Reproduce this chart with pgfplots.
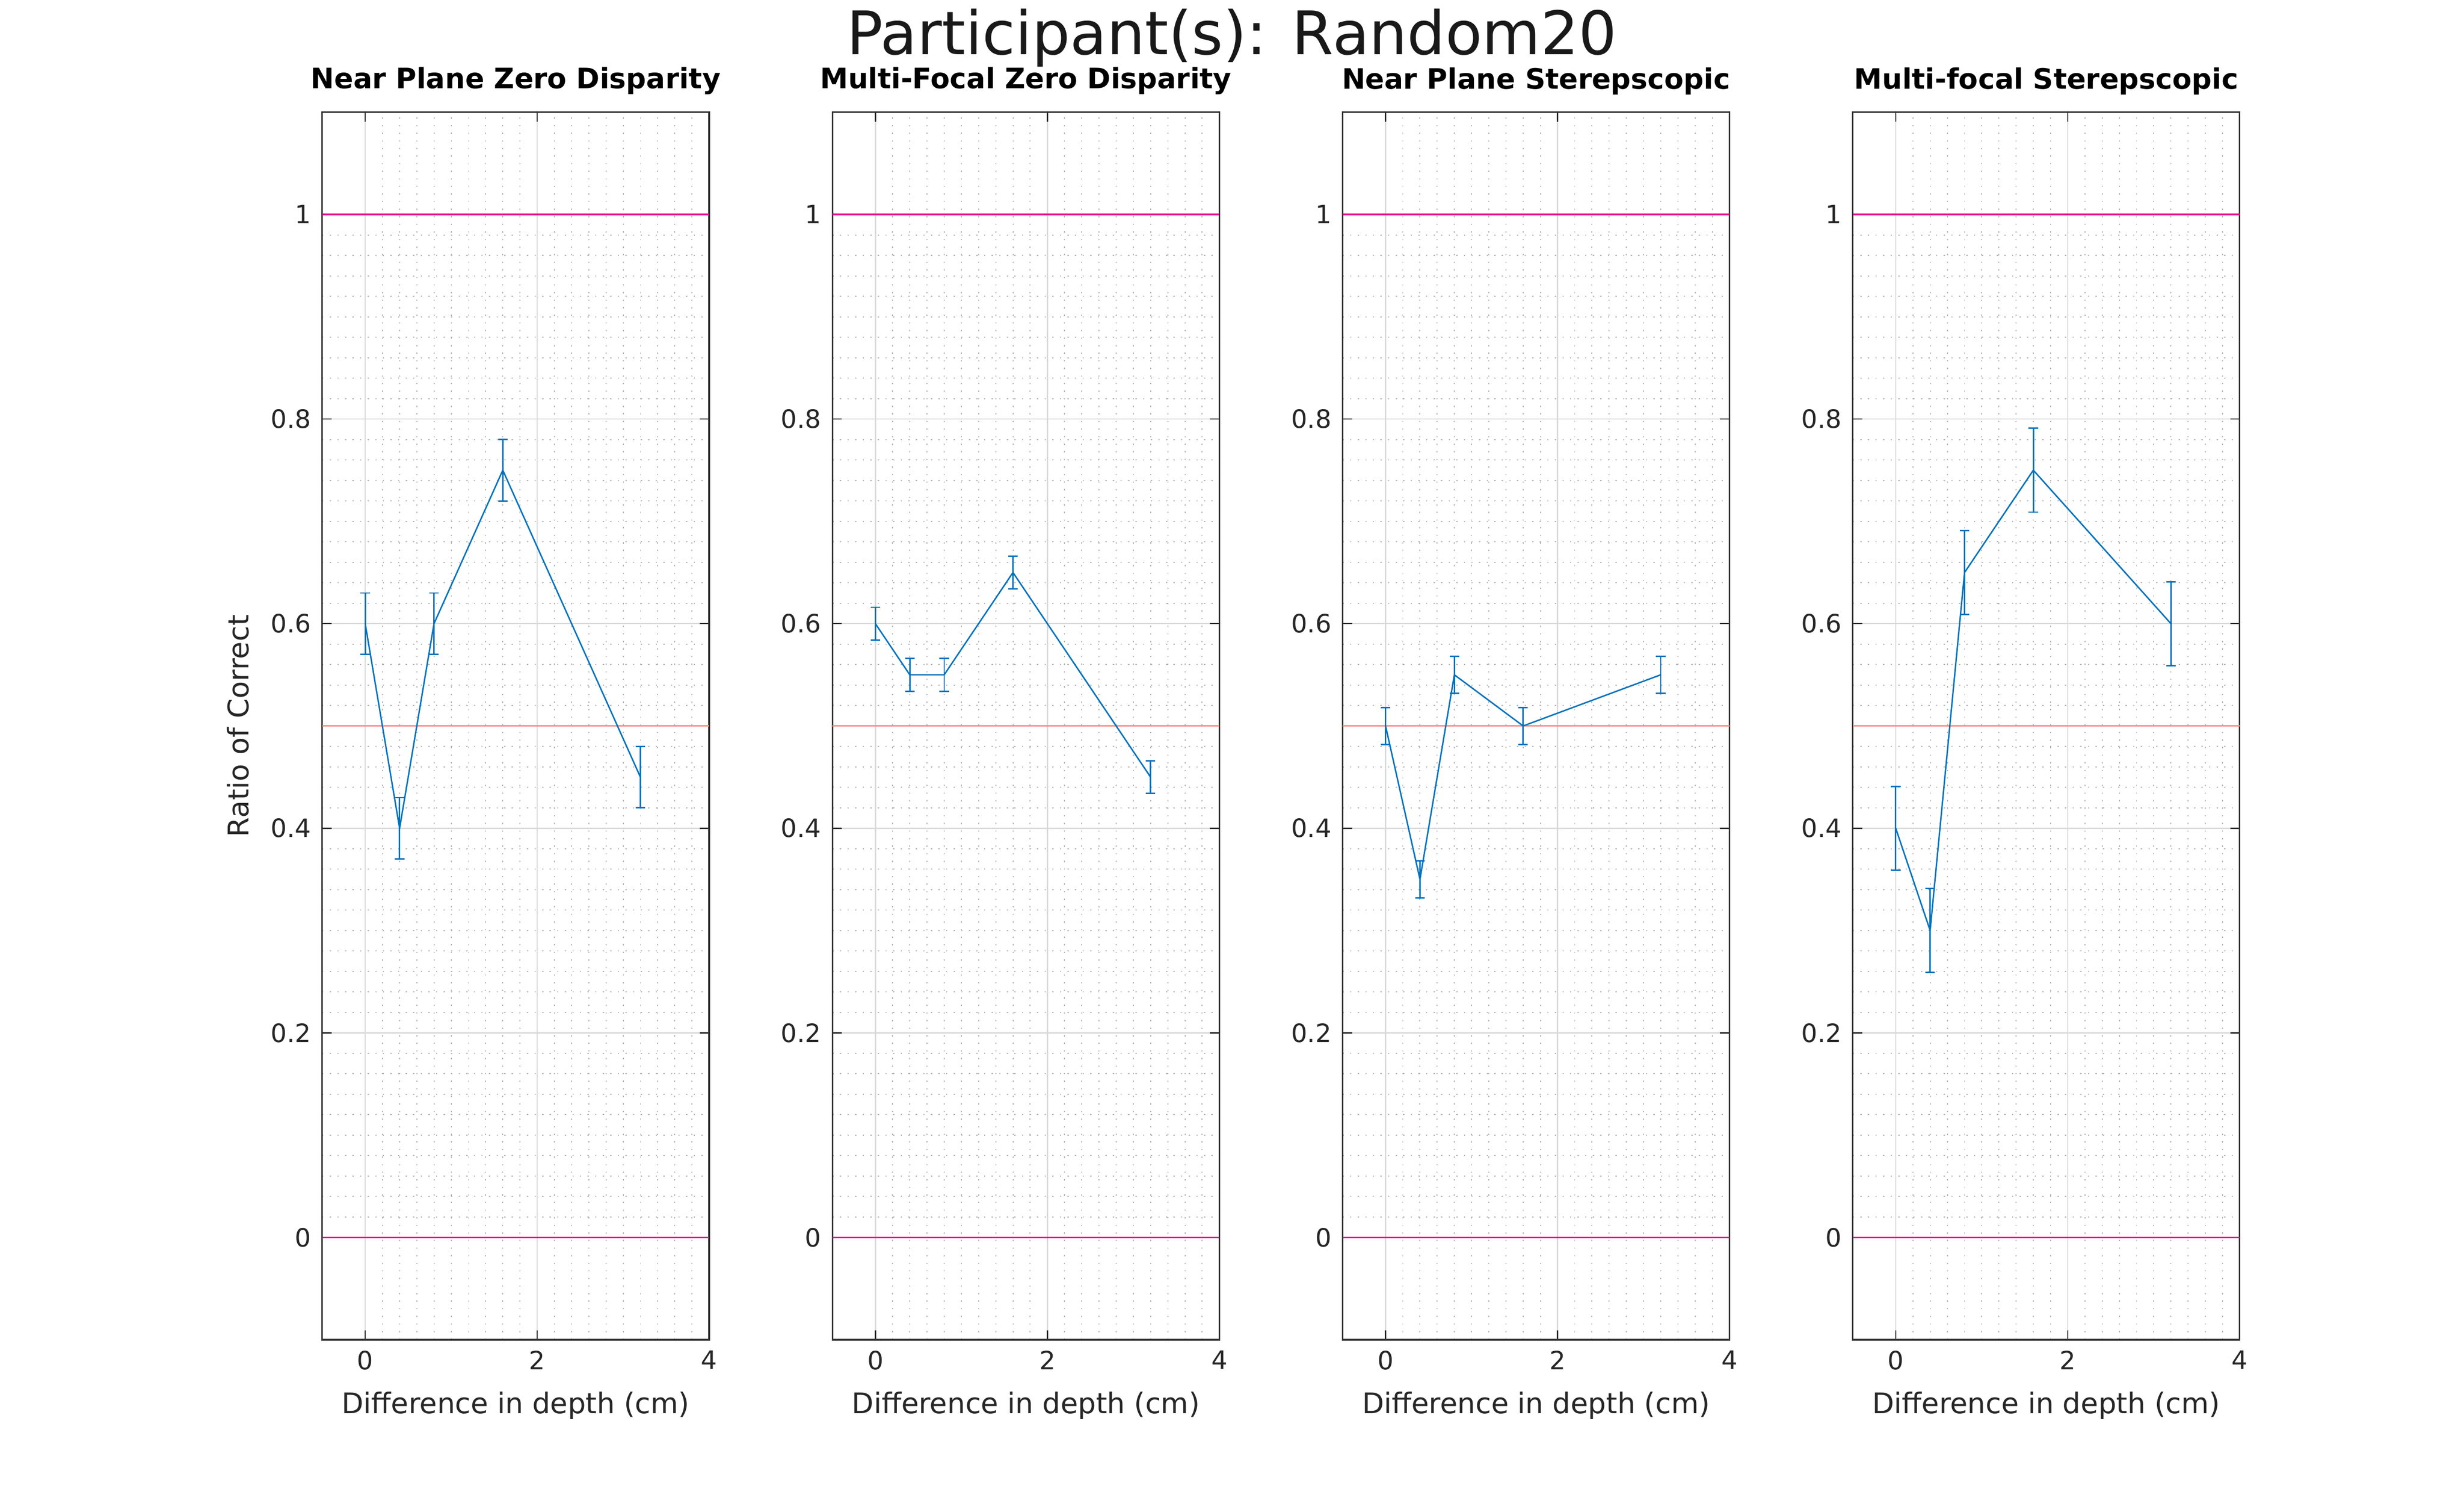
\documentclass[border=0pt]{standalone}
\usepackage{pgfplots}
\pgfplotsset{compat=1.18}
\usepackage{fontspec}
\setmainfont{DejaVu Sans}
\definecolor{mblue}{RGB}{0,114,189}
\pgfplotsset{
  panel/.style={
    scale only axis, width=122.5pt, height=388.5pt, anchor=south west,
    xmin=-0.5, xmax=4, ymin=-0.1, ymax=1.1,
    xtick={0,2,4}, ytick={0,0.2,0.4,0.6,0.8,1},
    yticklabels={0,0.2,0.4,0.6,0.8,1},
    minor x tick num=9, minor y tick num=9,
    grid=both,
    major grid style={gray!30, line width=0.4pt},
    minor grid style={gray!60, dotted, line width=0.3pt},
    tick align=inside, tick style={black!85, line width=0.4pt},
    minor tick length=0pt, major tick length=3pt,
    axis line style={black!80, line width=0.5pt},
    ticklabel style={font=\fontsize{8}{9}\selectfont, text=black!85},
    /pgf/number format/assume math mode=true,
    xlabel={Difference in depth (cm)},
    label style={font=\fontsize{9}{10}\selectfont, text=black!85},
    title style={font=\fontsize{8.9}{10}\selectfont\bfseries, yshift=-4pt},
    every axis plot/.append style={line width=0.45pt},
  },
  dat/.style={mblue, error bars/.cd, y dir=both, y explicit, error bar style={mblue, line width=0.45pt}, error mark options={rotate=90, mark size=1.5pt, line width=0.45pt}},
}
\begin{document}
\begin{tikzpicture}[x=1pt,y=1pt]
\useasboundingbox[fill=white] (0,0) rectangle (780,474);
\node[font=\fontsize{19}{22}\selectfont, text=black!90] at (390,462) {Participant(s): Random20};

\begin{axis}[panel, at={(102pt,50pt)}, title={Near Plane Zero Disparity}, ylabel={Ratio of Correct}]
\addplot[magenta, line width=0.5pt] coordinates {(-0.5,1) (4,1)};
\addplot[red!45, line width=0.4pt] coordinates {(-0.5,0.5) (4,0.5)};
\addplot[magenta, line width=0.5pt] coordinates {(-0.5,0) (4,0)};
\addplot[dat] coordinates {(0,0.6)+-(0,0.03) (0.4,0.4)+-(0,0.03) (0.8,0.6)+-(0,0.03) (1.6,0.75)+-(0,0.03) (3.2,0.45)+-(0,0.03)};
\end{axis}

\begin{axis}[panel, at={(263.5pt,50pt)}, title={Multi-Focal Zero Disparity}]
\addplot[magenta, line width=0.5pt] coordinates {(-0.5,1) (4,1)};
\addplot[red!45, line width=0.4pt] coordinates {(-0.5,0.5) (4,0.5)};
\addplot[magenta, line width=0.5pt] coordinates {(-0.5,0) (4,0)};
\addplot[dat] coordinates {(0,0.6)+-(0,0.016) (0.4,0.55)+-(0,0.016) (0.8,0.55)+-(0,0.016) (1.6,0.65)+-(0,0.016) (3.2,0.45)+-(0,0.016)};
\end{axis}

\begin{axis}[panel, at={(425pt,50pt)}, title={Near Plane Sterepscopic}]
\addplot[magenta, line width=0.5pt] coordinates {(-0.5,1) (4,1)};
\addplot[red!45, line width=0.4pt] coordinates {(-0.5,0.5) (4,0.5)};
\addplot[magenta, line width=0.5pt] coordinates {(-0.5,0) (4,0)};
\addplot[dat] coordinates {(0,0.5)+-(0,0.018) (0.4,0.35)+-(0,0.018) (0.8,0.55)+-(0,0.018) (1.6,0.5)+-(0,0.018) (3.2,0.55)+-(0,0.018)};
\end{axis}

\begin{axis}[panel, at={(586.5pt,50pt)}, title={Multi-focal Sterepscopic}]
\addplot[magenta, line width=0.5pt] coordinates {(-0.5,1) (4,1)};
\addplot[red!45, line width=0.4pt] coordinates {(-0.5,0.5) (4,0.5)};
\addplot[magenta, line width=0.5pt] coordinates {(-0.5,0) (4,0)};
\addplot[dat] coordinates {(0,0.4)+-(0,0.041) (0.4,0.3)+-(0,0.041) (0.8,0.65)+-(0,0.041) (1.6,0.75)+-(0,0.041) (3.2,0.6)+-(0,0.041)};
\end{axis}
\end{tikzpicture}
\end{document}
